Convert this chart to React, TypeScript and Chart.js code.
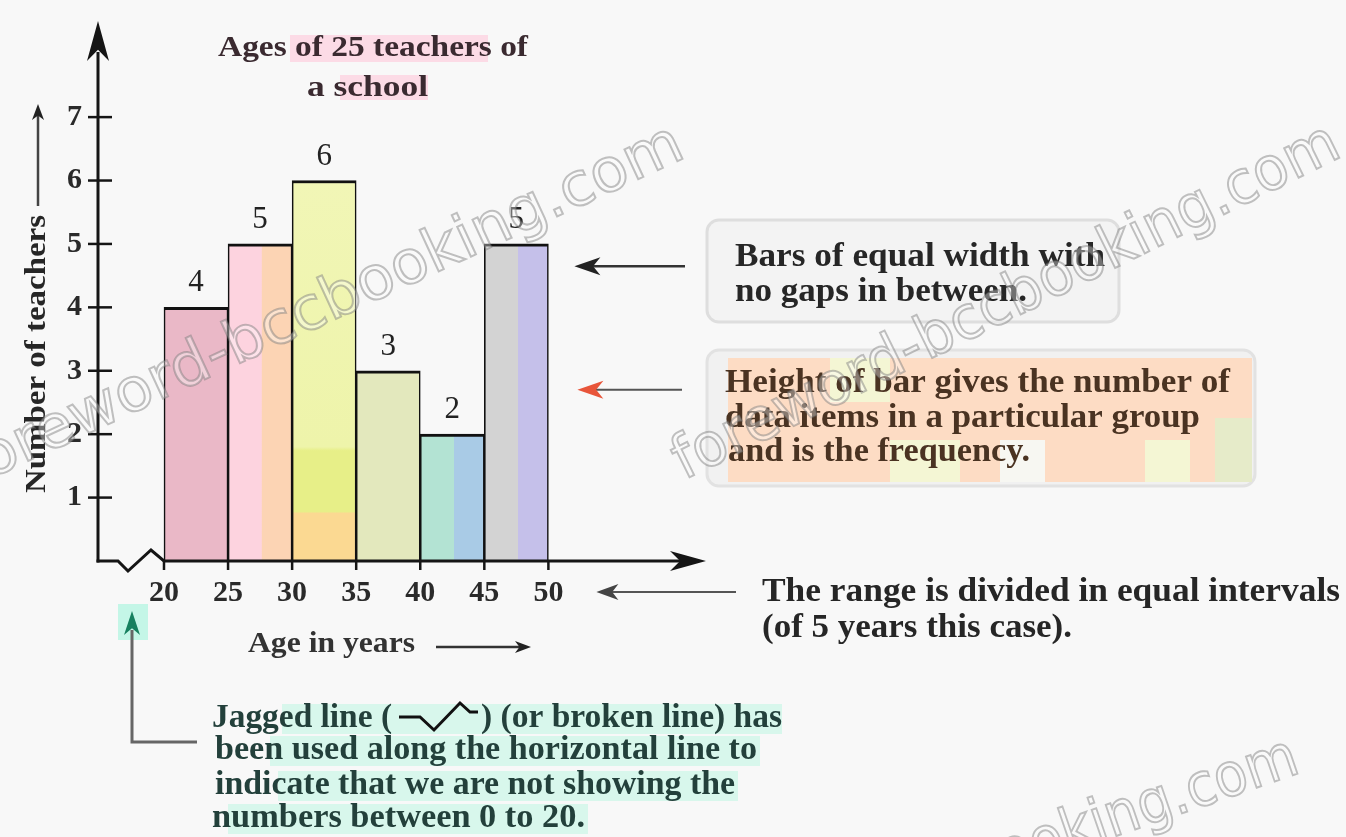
import React, { useEffect, useRef } from 'react';
import { Chart, registerables } from 'chart.js';

Chart.register(...registerables);

// ---------------- data ----------------
const ageGroupStarts = [20, 25, 30, 35, 40, 45];
const classWidth = 5;
const teacherCounts = [4, 5, 6, 3, 2, 5];
const xTickValues = [20, 25, 30, 35, 40, 45, 50];
const xTickLabels = ['20', '25', '30', '35', '40', '45', '50'];
const yTickValues = [1, 2, 3, 4, 5, 6, 7];
const yTickLabels = ['1', '2', '3', '4', '5', '6', '7'];

// ---------------- texts ----------------
const titleLines = ['Ages of 25 teachers of', 'a school'];
const yAxisTitle = 'Number of teachers';
const xAxisTitle = 'Age in years';
const noteBars = ['Bars of equal width with', 'no gaps in between.'];
const noteHeight = ['Height of bar gives the number of', 'data items in a particular group', 'and is the frequency.'];
const noteRange = ['The range is divided in equal intervals', '(of 5 years this case).'];
const noteJaggedStart = 'Jagged line (';
const noteJaggedEnd = ') (or broken line) has';
const noteJaggedRest = ['been used along the horizontal line to', 'indicate that we are not showing the', 'numbers between 0 to 20.'];
const watermarkText = 'foreword-bccbooking.com';

// ---------------- styles ----------------
const SERIF = '"Liberation Serif", "Times New Roman", serif';
const barLeftColors = ['#eab8c7', '#fdd3df', '#eef3a6', '#e3e8bd', '#b3e3d3', '#d3d3d3'];
const barRightColors = ['#eab8c7', '#fcd4b4', '#eef3a6', '#e3e8bd', '#a9cbe6', '#c5c0ea'];

function fitText(ctx: CanvasRenderingContext2D, text: string, left: number, cy: number, width: number, size: number, color: string, weight = 'bold') {
  ctx.save();
  ctx.font = `${weight} ${size}px ${SERIF}`;
  ctx.fillStyle = color;
  ctx.textBaseline = 'middle';
  ctx.textAlign = 'left';
  const w = ctx.measureText(text).width;
  ctx.translate(left, cy);
  ctx.scale(width / w, 1);
  ctx.fillText(text, 0, 0);
  ctx.restore();
}

function spearHead(ctx: CanvasRenderingContext2D, tx: number, ty: number, dx: number, dy: number, len: number, half: number, color: string) {
  const nx = -dy, ny = dx;
  ctx.save();
  ctx.fillStyle = color;
  ctx.beginPath();
  ctx.moveTo(tx, ty);
  ctx.lineTo(tx - dx * len + nx * half, ty - dy * len + ny * half);
  ctx.lineTo(tx - dx * len * 0.72, ty - dy * len * 0.72);
  ctx.lineTo(tx - dx * len - nx * half, ty - dy * len - ny * half);
  ctx.closePath();
  ctx.fill();
  ctx.restore();
}

function arrow(ctx: CanvasRenderingContext2D, x1: number, y1: number, x2: number, y2: number, color: string, lw: number, headColor: string, len: number, half: number) {
  const L = Math.hypot(x2 - x1, y2 - y1);
  const dx = (x2 - x1) / L, dy = (y2 - y1) / L;
  ctx.save();
  ctx.strokeStyle = color;
  ctx.lineWidth = lw;
  ctx.beginPath();
  ctx.moveTo(x1, y1);
  ctx.lineTo(x2 - dx * len * 0.6, y2 - dy * len * 0.6);
  ctx.stroke();
  ctx.restore();
  spearHead(ctx, x2, y2, dx, dy, len, half, headColor);
}

const decorPlugin = {
  id: 'decor',
  beforeDraw(chart: any) {
    const ctx: CanvasRenderingContext2D = chart.ctx;
    ctx.save();
    ctx.fillStyle = '#f8f8f8';
    ctx.fillRect(0, 0, chart.width, chart.height);
    // title highlight
    ctx.fillStyle = '#fcdbe6';
    ctx.fillRect(290, 35, 198, 27);
    ctx.fillRect(340, 75, 88, 25);
    ctx.restore();
  },
  afterDatasetsDraw(chart: any) {
    const ctx: CanvasRenderingContext2D = chart.ctx;
    const xs = chart.scales.x;
    const ys = chart.scales.y;
    const area = chart.chartArea;
    const y0 = ys.getPixelForValue(0);
    const x20 = xs.getPixelForValue(xTickValues[0]);
    const ink = '#151515';

    // value labels
    const meta = chart.getDatasetMeta(0);
    ctx.save();
    ctx.font = `31px ${SERIF}`;
    ctx.fillStyle = '#222';
    ctx.textAlign = 'center';
    ctx.textBaseline = 'middle';
    meta.data.forEach((el: any, i: number) => {
      ctx.fillText(String(teacherCounts[i]), el.x, el.y - 24);
    });
    ctx.restore();

    // axes
    ctx.save();
    ctx.strokeStyle = ink;
    ctx.lineWidth = 3;
    ctx.lineJoin = 'miter';
    ctx.beginPath();
    ctx.moveTo(area.left, y0 + 1.5);
    ctx.lineTo(area.left, area.top + 30);
    ctx.stroke();
    ctx.beginPath();
    ctx.moveTo(area.left - 1.5, y0);
    ctx.lineTo(area.left + 20, y0);
    ctx.lineTo(area.left + 30, y0 + 10);
    ctx.lineTo(area.left + 53, y0 - 11);
    ctx.lineTo(x20, y0);
    ctx.lineTo(area.right - 20, y0);
    ctx.stroke();
    // tick marks
    ctx.lineWidth = 2.5;
    yTickValues.forEach((v) => {
      const py = ys.getPixelForValue(v);
      ctx.beginPath();
      ctx.moveTo(area.left - 10, py);
      ctx.lineTo(area.left + 14, py);
      ctx.stroke();
    });
    xTickValues.forEach((v) => {
      const px = xs.getPixelForValue(v);
      ctx.beginPath();
      ctx.moveTo(px, y0);
      ctx.lineTo(px, y0 + 9);
      ctx.stroke();
    });
    ctx.restore();
    spearHead(ctx, area.left, area.top - 1, 0, -1, 40, 11, ink);
    spearHead(ctx, area.right, y0, 1, 0, 36, 10, ink);
  },
  afterDraw(chart: any) {
    const ctx: CanvasRenderingContext2D = chart.ctx;
    const xs = chart.scales.x;
    const ys = chart.scales.y;
    const text = '#262626';

    // title
    fitText(ctx, titleLines[0], 218, 48, 310, 30, '#3a2a30');
    fitText(ctx, titleLines[1], 307, 88, 121, 30, '#3a2a30');

    // y axis title
    ctx.save();
    ctx.translate(37, 354);
    ctx.rotate(-Math.PI / 2);
    fitText(ctx, yAxisTitle, -139, 0, 278, 30, text);
    ctx.restore();
    arrow(ctx, 38, 206, 38, 104, '#444', 2.5, '#222', 16, 6);

    // x axis title
    fitText(ctx, xAxisTitle, 248, 645, 167, 29, '#333');
    arrow(ctx, 436, 647, 531, 647, '#333', 2.5, '#222', 16, 6);

    // note: bars of equal width
    ctx.save();
    ctx.fillStyle = '#f3f3f3';
    ctx.strokeStyle = '#dedede';
    ctx.lineWidth = 3;
    ctx.beginPath();
    (ctx as any).roundRect(707, 220, 412, 102, 12);
    ctx.fill();
    ctx.stroke();
    ctx.restore();
    fitText(ctx, noteBars[0], 735, 257, 370, 33, text);
    fitText(ctx, noteBars[1], 735, 292, 292, 33, text);
    const barArrowY = ys.getPixelForValue(4.65);
    arrow(ctx, 685, barArrowY, xs.getPixelForValue(50) + 26, barArrowY, '#333', 2.5, '#222', 26, 9);

    // note: height of bar
    ctx.save();
    ctx.fillStyle = '#f1f1f1';
    ctx.strokeStyle = '#e2e2e2';
    ctx.lineWidth = 3;
    ctx.beginPath();
    (ctx as any).roundRect(707, 350, 548, 136, 12);
    ctx.fill();
    ctx.stroke();
    ctx.fillStyle = '#fddcc4';
    ctx.fillRect(728, 358, 524, 124);
    ctx.fillStyle = '#f4f6d4';
    ctx.fillRect(830, 358, 60, 44);
    ctx.fillRect(890, 440, 70, 42);
    ctx.fillRect(1145, 440, 45, 42);
    ctx.fillStyle = '#f7f7f2';
    ctx.fillRect(1000, 440, 45, 42);
    ctx.fillStyle = '#e6ebc9';
    ctx.fillRect(1215, 418, 37, 64);
    ctx.restore();
    fitText(ctx, noteHeight[0], 725, 383, 505, 33, '#4a3322');
    fitText(ctx, noteHeight[1], 725, 418, 475, 33, '#4a3322');
    fitText(ctx, noteHeight[2], 728, 452, 302, 33, '#4a3322');
    const hArrowY = ys.getPixelForValue(2.7);
    arrow(ctx, 682, hArrowY, xs.getPixelForValue(50) + 29, hArrowY, '#555', 2, '#e8553a', 26, 9);

    // note: range
    fitText(ctx, noteRange[0], 762, 592, 578, 33, text);
    fitText(ctx, noteRange[1], 762, 628, 310, 33, text);
    arrow(ctx, 736, 592, xs.getPixelForValue(50) + 48, 592, '#555', 2, '#444', 22, 8);

    // note: jagged line
    ctx.save();
    ctx.fillStyle = 'rgba(205,247,232,0.75)';
    ctx.fillRect(282, 704, 500, 30);
    ctx.fillRect(270, 736, 490, 30);
    ctx.fillRect(278, 771, 460, 30);
    ctx.fillRect(228, 804, 360, 30);
    ctx.fillStyle = 'rgba(190,245,228,0.9)';
    ctx.fillRect(118, 604, 30, 36);
    ctx.restore();
    const jag = '#23403b';
    fitText(ctx, noteJaggedStart, 212, 718, 180, 33, jag);
    ctx.save();
    ctx.strokeStyle = '#111';
    ctx.lineWidth = 3;
    ctx.lineJoin = 'miter';
    ctx.beginPath();
    ctx.moveTo(399, 717);
    ctx.lineTo(420, 717);
    ctx.lineTo(434, 730);
    ctx.lineTo(460, 703);
    ctx.lineTo(470, 712);
    ctx.lineTo(478, 712);
    ctx.stroke();
    ctx.restore();
    fitText(ctx, noteJaggedEnd, 481, 718, 301, 33, jag);
    fitText(ctx, noteJaggedRest[0], 215, 750, 542, 33, jag);
    fitText(ctx, noteJaggedRest[1], 215, 785, 520, 33, jag);
    fitText(ctx, noteJaggedRest[2], 212, 818, 373, 33, jag);
    // connector
    ctx.save();
    ctx.strokeStyle = '#666';
    ctx.lineWidth = 3;
    ctx.beginPath();
    ctx.moveTo(132, 630);
    ctx.lineTo(132, 742);
    ctx.lineTo(197, 742);
    ctx.stroke();
    ctx.restore();
    spearHead(ctx, 132, 611, 0, -1, 24, 8, '#16805f');

    // watermarks
    const marks = [
      { x: -30, y: 488, w: 790, a: -24.8 },
      { x: 684, y: 480, w: 735, a: -26.2 },
      { x: 640, y: 1000, w: 700, a: -19 },
    ];
    marks.forEach((m) => {
      ctx.save();
      ctx.translate(m.x, m.y);
      ctx.rotate((m.a * Math.PI) / 180);
      ctx.font = `60px "DejaVu Sans", sans-serif`;
      const w = ctx.measureText(watermarkText).width;
      ctx.scale(m.w / w, 1);
      ctx.textBaseline = 'alphabetic';
      ctx.fillStyle = 'rgba(255,255,255,0.35)';
      ctx.fillText(watermarkText, 0, 0);
      ctx.strokeStyle = 'rgba(120,120,120,0.45)';
      ctx.lineWidth = 2;
      ctx.strokeText(watermarkText, 0, 0);
      ctx.restore();
    });
  },
};

export default function App() {
  const canvasRef = useRef<HTMLCanvasElement | null>(null);

  useEffect(() => {
    document.body.style.margin = '0';
    const canvas = canvasRef.current;
    if (!canvas) return;

    const barFill = (c: any) => {
      const i = c.dataIndex;
      const chart = c.chart;
      const xs = chart.scales?.x;
      const ys = chart.scales?.y;
      if (i === undefined || !xs || !ys || !chart.chartArea) return barLeftColors[i ?? 0];
      const g2 = chart.ctx;
      if (i === 2) {
        const top = ys.getPixelForValue(teacherCounts[i]);
        const bot = ys.getPixelForValue(0);
        const g = g2.createLinearGradient(0, top, 0, bot);
        g.addColorStop(0, '#f1f6b6');
        g.addColorStop(0.7, '#eef4aa');
        g.addColorStop(0.71, '#e7ef88');
        g.addColorStop(0.87, '#e7ef88');
        g.addColorStop(0.875, '#fbd992');
        g.addColorStop(1, '#fbd992');
        return g;
      }
      const x0 = xs.getPixelForValue(ageGroupStarts[i]);
      const x1 = xs.getPixelForValue(ageGroupStarts[i] + classWidth);
      const g = g2.createLinearGradient(x0, 0, x1, 0);
      g.addColorStop(0, barLeftColors[i]);
      g.addColorStop(0.52, barLeftColors[i]);
      g.addColorStop(0.53, barRightColors[i]);
      g.addColorStop(1, barRightColors[i]);
      return g;
    };

    const chart = new Chart(canvas, {
      type: 'bar',
      data: {
        datasets: [
          {
            data: ageGroupStarts.map((a, i) => ({ x: a + classWidth / 2, y: teacherCounts[i] })),
            backgroundColor: barFill,
            borderColor: '#111',
            borderWidth: { top: 3, left: 1.6, right: 1.6, bottom: 0 },
            borderSkipped: false,
            barPercentage: 1,
            categoryPercentage: 1,
          } as any,
        ],
      },
      options: {
        responsive: false,
        animation: false,
        devicePixelRatio: 1,
        layout: { padding: { top: 22, right: 640, bottom: 0, left: 0 } },
        plugins: {
          legend: { display: false },
          tooltip: { enabled: false },
          title: { display: false },
        },
        scales: {
          x: {
            type: 'linear',
            offset: false,
            min: 14.85,
            max: 62.3,
            grid: { display: false, drawTicks: false, offset: false },
            border: { display: false },
            afterBuildTicks: (s: any) => {
              s.ticks = xTickValues.map((v) => ({ value: v }));
            },
            afterFit: (s: any) => {
              s.height = 276;
              s.paddingLeft = 0;
              s.paddingRight = 0;
            },
            ticks: {
              autoSkip: false,
              maxRotation: 0,
              padding: 14,
              color: '#2a2a2a',
              font: { family: SERIF, size: 30, weight: 'bold' },
              callback: (v: any) => {
                const i = xTickValues.indexOf(Number(v));
                return i >= 0 ? xTickLabels[i] : '';
              },
            },
          },
          y: {
            min: 0,
            max: 8.5,
            grid: { display: false, drawTicks: false },
            border: { display: false },
            afterBuildTicks: (s: any) => {
              s.ticks = yTickValues.map((v) => ({ value: v }));
            },
            afterFit: (s: any) => {
              s.width = 98;
              s.paddingTop = 0;
              s.paddingBottom = 0;
            },
            ticks: {
              padding: 16,
              color: '#2a2a2a',
              font: { family: SERIF, size: 30, weight: 'bold' },
              callback: (v: any) => {
                const i = yTickValues.indexOf(Number(v));
                return i >= 0 ? yTickLabels[i] : '';
              },
            },
          },
        },
      } as any,
      plugins: [decorPlugin],
    });

    return () => {
      chart.destroy();
    };
  }, []);

  return (
    <div style={{ width: 1346, height: 837, position: 'relative' }}>
      <canvas ref={canvasRef} width={1346} height={837} style={{ display: 'block', width: 1346, height: 837 }} />
    </div>
  );
}
